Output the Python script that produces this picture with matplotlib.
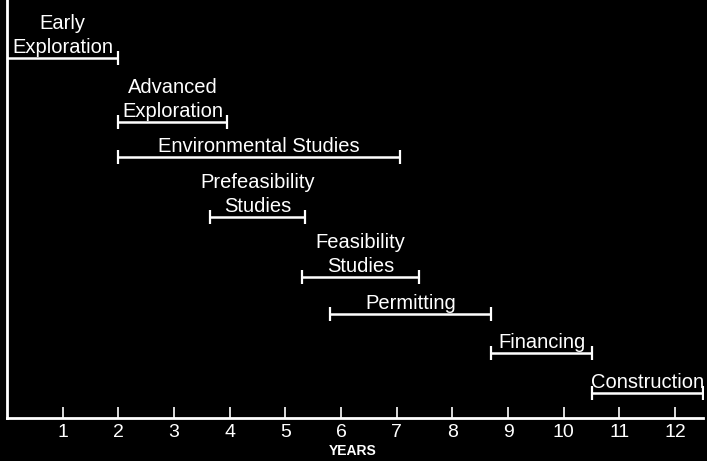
import matplotlib
matplotlib.use("Agg")
import matplotlib.pyplot as plt

tasks = ["Early\nExploration", "Advanced\nExploration", "Environmental Studies",
         "Prefeasibility\nStudies", "Feasibility\nStudies", "Permitting",
         "Financing", "Construction"]
starts = [0.0, 2.0, 2.0, 3.65, 5.3, 5.8, 8.7, 10.5]
ends = [2.0, 3.95, 7.05, 5.35, 7.4, 8.7, 10.5, 12.5]
levels = [8.61, 7.08, 6.24, 4.81, 3.37, 2.49, 1.56, 0.60]
ticks = list(range(1, 13))
tick_labels = [str(t) for t in ticks]

plt.rcParams['font.family'] = ['Liberation Sans', 'DejaVu Sans']

fig = plt.figure(figsize=(7.07, 4.61), dpi=100, facecolor='black')
ax = fig.add_axes([7/707, 43/461, 696/707, 418/461])
ax.set_facecolor('black')
ax.set_xlim(0, 12.5)
ax.set_ylim(0, 10)

for name, s, e, y in zip(tasks, starts, ends, levels):
    ax.hlines(y, s, e, color='white', lw=1.8)
    ax.plot([s, e], [y, y], ls='none', marker='|', ms=10, mew=1.6, color='white')
    ax.annotate(name, xy=((s + e) / 2, y), xytext=(0, 0.5), textcoords='offset points',
                ha='center', va='bottom', color='white', fontsize=14.5, linespacing=1.38)

for side in ['top', 'right']:
    ax.spines[side].set_visible(False)
for side in ['left', 'bottom']:
    ax.spines[side].set_color('white')
    ax.spines[side].set_linewidth(2)

ax.set_xticks(ticks)
ax.set_xticklabels(tick_labels)
ax.tick_params(axis='x', direction='in', length=8, width=1.2, colors='white',
               labelsize=14, pad=4)
ax.set_yticks([])
ax.set_xlabel("YEARS", color='white', fontsize=10, fontweight='bold')
ax.xaxis.set_label_coords(6.2 / 12.5, -0.062)

fig.savefig("out.png", dpi=100, facecolor='black')
